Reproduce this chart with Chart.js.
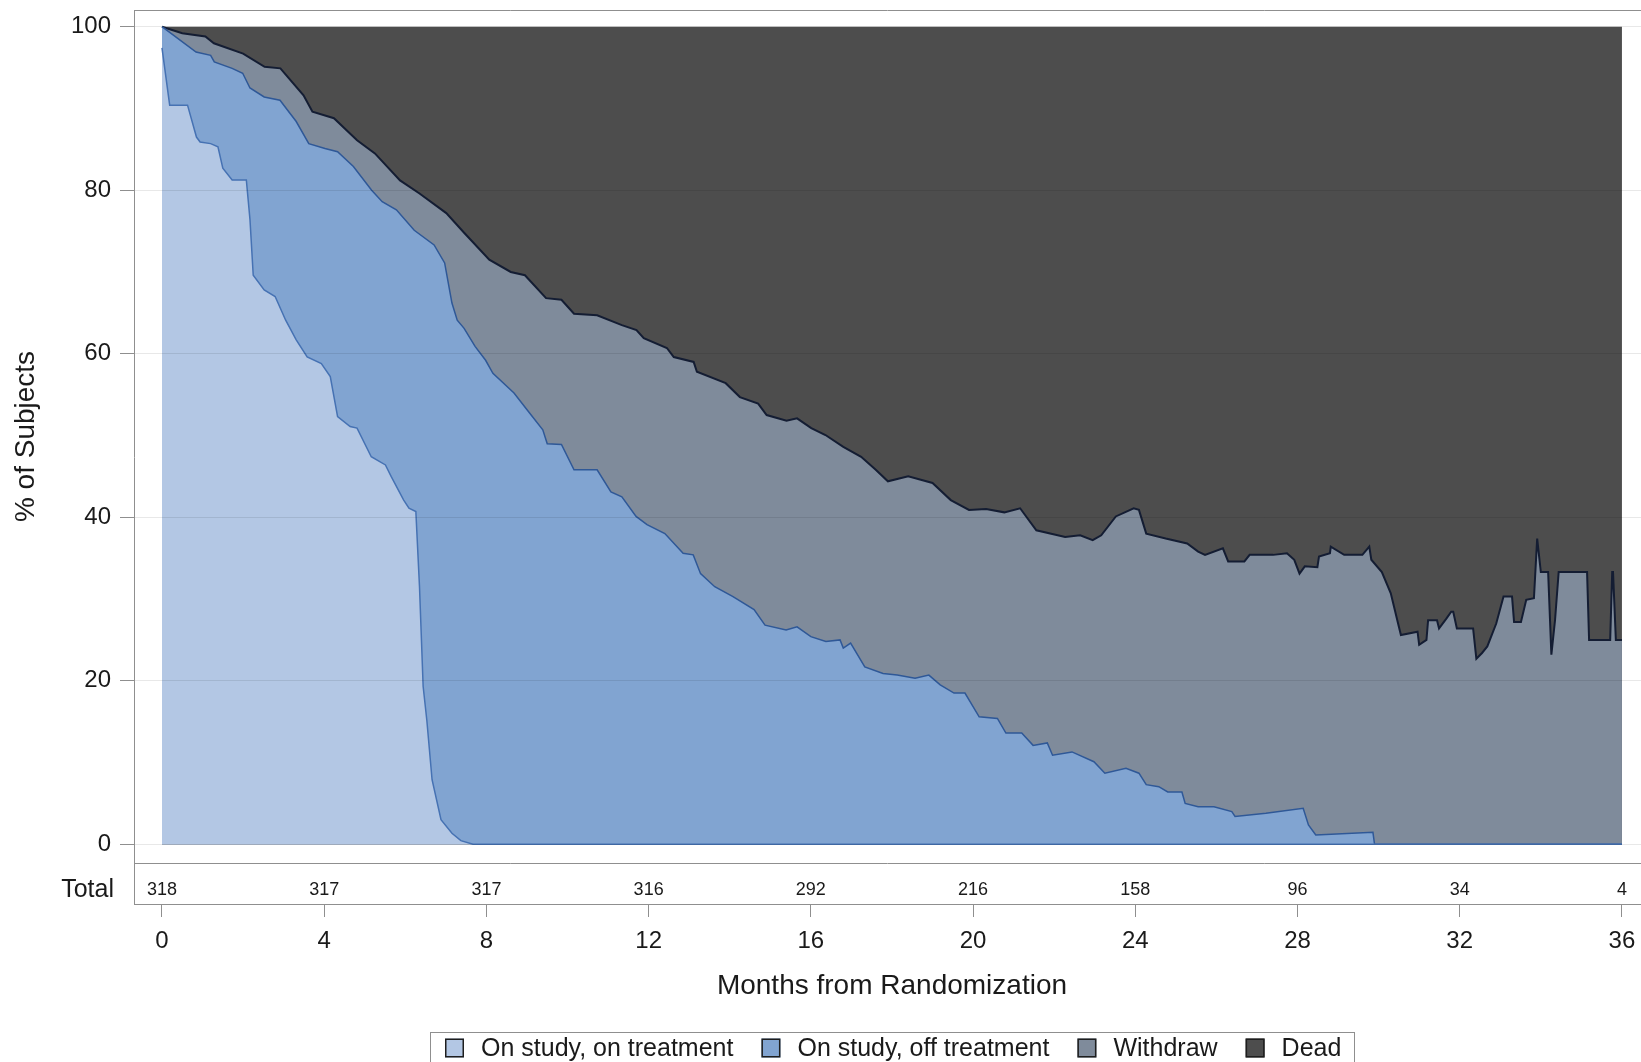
<!DOCTYPE html>
<html>
<head>
<meta charset="utf-8">
<title>Subject status over time</title>
<script src="https://cdn.jsdelivr.net/npm/chart.js@4.4.1/dist/chart.umd.min.js"></script>
<style>
  html, body { margin: 0; padding: 0; background: #ffffff; overflow: hidden; }
  #wrap { width: 1641px; height: 1062px; position: relative; }
  canvas { display: block; }
</style>
</head>
<body>
<div id="wrap"><canvas id="statusChart" width="1641" height="1062"></canvas></div>
<script>
// Cumulative percentages of subjects (upper edge of each stacked band), by month.
const onTreatmentMonths = [0, 0.19, 0.63, 0.85, 0.94, 1.2, 1.38, 1.5, 1.73, 2.08, 2.17, 2.25, 2.52, 2.79, 3.05, 3.31, 3.58, 3.93, 4.15, 4.33, 4.64, 4.81, 5.16, 5.51, 5.65, 5.96, 6.09, 6.26, 6.35, 6.44, 6.53, 6.66, 6.88, 7.15, 7.37, 7.67, 36];
const onTreatmentTop = [97.4, 90.4, 90.4, 86.5, 85.9, 85.7, 85.3, 82.7, 81.25, 81.25, 76.4, 69.6, 67.8, 67.0, 64.1, 61.7, 59.6, 58.8, 57.2, 52.3, 51.1, 50.9, 47.4, 46.4, 45.0, 42.1, 41.1, 40.7, 31.5, 19.3, 15.2, 7.9, 3.0, 1.35, 0.45, 0, 0];

const offTreatmentMonths = [0, 0.84, 1.2, 1.29, 1.73, 1.99, 2.17, 2.52, 2.91, 3.31, 3.62, 4.02, 4.33, 4.72, 5.17, 5.43, 5.78, 6.22, 6.71, 6.97, 7.15, 7.28, 7.45, 7.72, 7.98, 8.16, 8.68, 9.04, 9.39, 9.5, 9.85, 10.16, 10.73, 11.07, 11.34, 11.69, 11.96, 12.4, 12.85, 13.1, 13.28, 13.63, 14.08, 14.6, 14.87, 15.39, 15.66, 16.0, 16.37, 16.72, 16.8, 16.98, 17.33, 17.78, 18.13, 18.57, 18.91, 19.19, 19.53, 19.8, 20.15, 20.6, 20.81, 21.2, 21.48, 21.83, 21.96, 22.44, 22.98, 23.25, 23.77, 24.09, 24.27, 24.58, 24.8, 25.15, 25.23, 25.55, 25.94, 26.38, 26.46, 27.22, 28.14, 28.27, 28.45, 29.86, 29.9, 36];
const offTreatmentTop = [100, 96.9, 96.5, 95.7, 94.9, 94.3, 92.5, 91.4, 91.0, 88.4, 85.7, 85.1, 84.7, 82.9, 80.0, 78.6, 77.6, 75.1, 73.3, 71.1, 66.2, 64.1, 63.1, 60.9, 59.2, 57.6, 55.2, 52.9, 50.7, 49.0, 48.9, 45.8, 45.8, 43.1, 42.5, 40.1, 39.1, 38.0, 35.6, 35.4, 33.1, 31.5, 30.3, 28.7, 26.8, 26.2, 26.6, 25.4, 24.8, 25.0, 24.0, 24.6, 21.7, 20.9, 20.7, 20.3, 20.7, 19.5, 18.5, 18.5, 15.6, 15.4, 13.6, 13.6, 12.1, 12.4, 10.9, 11.3, 10.1, 8.7, 9.3, 8.7, 7.3, 7.05, 6.4, 6.4, 5.0, 4.6, 4.6, 4.0, 3.4, 3.8, 4.4, 2.36, 1.14, 1.47, 0, 0];

const withdrawMonths = [0, 0.5, 1.07, 1.28, 2.0, 2.53, 2.92, 3.49, 3.71, 4.24, 4.81, 5.25, 5.87, 6.35, 7.01, 7.45, 8.07, 8.6, 8.95, 9.47, 9.85, 10.16, 10.73, 11.34, 11.7, 11.88, 12.45, 12.62, 13.11, 13.19, 13.9, 14.25, 14.7, 14.91, 15.4, 15.66, 16.01, 16.36, 16.8, 17.24, 17.6, 17.9, 18.4, 19.0, 19.45, 19.9, 20.32, 20.77, 21.16, 21.56, 22.27, 22.64, 22.95, 23.16, 23.52, 23.96, 24.09, 24.27, 24.75, 25.28, 25.55, 25.72, 26.16, 26.29, 26.69, 26.82, 27.4, 27.74, 27.92, 28.05, 28.18, 28.49, 28.53, 28.8, 28.82, 29.15, 29.6, 29.77, 29.82, 30.08, 30.3, 30.48, 30.55, 30.96, 31.0, 31.18, 31.22, 31.44, 31.49, 31.67, 31.79, 31.84, 31.93, 32.33, 32.41, 32.55, 32.68, 32.9, 33.08, 33.29, 33.34, 33.51, 33.64, 33.83, 33.91, 34.0, 34.18, 34.26, 34.35, 34.44, 35.14, 35.19, 35.71, 35.76, 35.78, 35.85, 36];
const withdrawTop = [100, 99.2, 98.8, 97.97, 96.7, 95.1, 94.9, 91.6, 89.6, 88.8, 86.1, 84.5, 81.2, 79.6, 77.2, 74.8, 71.5, 70.0, 69.6, 66.8, 66.6, 64.9, 64.7, 63.5, 62.9, 61.9, 60.7, 59.6, 59.0, 57.8, 56.4, 54.7, 53.9, 52.5, 51.8, 52.1, 50.9, 50.06, 48.6, 47.4, 45.8, 44.4, 45.0, 44.2, 42.1, 40.9, 41.0, 40.6, 41.1, 38.4, 37.6, 37.8, 37.2, 37.8, 40.1, 41.1, 40.9, 38.0, 37.4, 36.8, 35.8, 35.4, 36.2, 34.6, 34.6, 35.4, 35.4, 35.6, 34.8, 33.1, 34.0, 33.9, 35.2, 35.6, 36.4, 35.4, 35.4, 36.4, 34.8, 33.3, 30.7, 27.0, 25.6, 26.0, 24.4, 25.0, 27.4, 27.4, 26.4, 27.6, 28.45, 28.45, 26.4, 26.4, 22.7, 23.4, 24.2, 27.0, 30.3, 30.3, 27.2, 27.2, 29.9, 30.1, 37.4, 33.3, 33.3, 23.2, 27.4, 33.3, 33.3, 25.0, 25.0, 33.3, 33.3, 25.0, 25.0];

const deadMonths = [0, 36];
const deadTop = [100, 100];

// Number of subjects by visit month
const atRiskMonths = [0, 4, 8, 12, 16, 20, 24, 28, 32, 36];
const atRiskTotal = [318, 317, 317, 316, 292, 216, 158, 96, 34, 4];

const xTickMonths = [0, 4, 8, 12, 16, 20, 24, 28, 32, 36];
const yTickPct = [0, 20, 40, 60, 80, 100];

const seriesLabels = ['On study, on treatment', 'On study, off treatment', 'Withdraw', 'Dead'];

const FONT = '"Liberation Sans", Arial, Helvetica, sans-serif';
const TEXT = '#1a1a1a';
const FRAME = '#8f8f8f';

function toPoints(xs, ys) {
  return xs.map((x, i) => ({ x: x, y: ys[i] }));
}

function noEdgePadding(s) {
  s.paddingTop = 0;
  s.paddingBottom = 0;
  s.paddingLeft = 0;
  s.paddingRight = 0;
}

// Extra drawing: frame lines, subject-count row, axis titles, boxed legend.
const decorations = {
  id: 'decorations',
  afterDraw(chart) {
    const ctx = chart.ctx;
    const area = chart.chartArea;
    const xs = chart.scales.x;
    const bandTop = area.bottom - 41;
    ctx.save();

    // frame
    ctx.strokeStyle = FRAME;
    ctx.lineWidth = 1;
    ctx.beginPath();
    ctx.moveTo(area.left, area.top + 0.5);
    ctx.lineTo(area.right, area.top + 0.5);
    ctx.moveTo(area.left, bandTop + 0.5);
    ctx.lineTo(area.right, bandTop + 0.5);
    ctx.stroke();

    // subject counts
    ctx.fillStyle = TEXT;
    ctx.textBaseline = 'middle';
    ctx.textAlign = 'center';
    ctx.font = '18px ' + FONT;
    const rowY = area.bottom - 14;
    atRiskMonths.forEach((m, i) => {
      ctx.fillText(String(atRiskTotal[i]), xs.getPixelForValue(m), rowY);
    });
    ctx.textAlign = 'right';
    ctx.font = '25px ' + FONT;
    ctx.fillText('Total', area.left - 20, rowY);

    // axis titles
    ctx.textAlign = 'center';
    ctx.font = '28px ' + FONT;
    ctx.fillText('Months from Randomization', xs.getPixelForValue(18), area.bottom + 82);
    ctx.save();
    ctx.translate(26, (area.top + bandTop) / 2);
    ctx.rotate(-Math.PI / 2);
    ctx.fillText('% of Subjects', 0, 0);
    ctx.restore();

    // legend
    ctx.font = '25px ' + FONT;
    const box = 19, gapText = 17, gapItem = 28, padL = 15, padR = 13;
    const items = chart.data.datasets.map(d => ({ label: d.label, fill: d.backgroundColor }));
    let total = padL + padR;
    items.forEach((it, i) => {
      it.w = ctx.measureText(it.label).width;
      total += box + gapText + it.w + (i < items.length - 1 ? gapItem : 0);
    });
    const left = Math.round(xs.getPixelForValue(18) - total / 2);
    const top = area.bottom + 128;
    const cy = top + 16;
    ctx.strokeStyle = FRAME;
    ctx.lineWidth = 1;
    ctx.strokeRect(left + 0.5, top + 0.5, Math.round(total), 60);
    let x = left + padL;
    ctx.textAlign = 'left';
    items.forEach(it => {
      ctx.fillStyle = it.fill;
      ctx.fillRect(x, cy - box / 2, box, box);
      ctx.strokeStyle = '#1e1e1e';
      ctx.lineWidth = 1.5;
      ctx.strokeRect(x + 0.75, cy - box / 2 + 0.75, box - 1.5, box - 1.5);
      x += box + gapText;
      ctx.fillStyle = TEXT;
      ctx.fillText(it.label, x, cy + 1);
      x += it.w + gapItem;
    });
    ctx.restore();
  }
};

const chart = new Chart(document.getElementById('statusChart'), {
  type: 'line',
  data: {
    datasets: [
      {
        label: seriesLabels[0],
        data: toPoints(onTreatmentMonths, onTreatmentTop),
        backgroundColor: '#b3c7e4',
        borderColor: '#4672b3',
        borderWidth: 1.5,
        fill: 'origin'
      },
      {
        label: seriesLabels[1],
        data: toPoints(offTreatmentMonths, offTreatmentTop),
        backgroundColor: '#81a4d1',
        borderColor: '#2f5897',
        borderWidth: 1.5,
        fill: 'origin'
      },
      {
        label: seriesLabels[2],
        data: toPoints(withdrawMonths, withdrawTop),
        backgroundColor: '#7f8b9b',
        borderColor: '#141d33',
        borderWidth: 2,
        fill: 'origin'
      },
      {
        label: seriesLabels[3],
        data: toPoints(deadMonths, deadTop),
        backgroundColor: '#4d4d4d',
        borderColor: '#4d4d4d',
        borderWidth: 0,
        fill: 'origin'
      }
    ]
  },
  options: {
    responsive: false,
    animation: false,
    devicePixelRatio: 1,
    events: [],
    elements: {
      point: { radius: 0 },
      line: { tension: 0, borderJoinStyle: 'miter' }
    },
    layout: { padding: { top: 10, left: 0, right: 0, bottom: 0 } },
    plugins: {
      legend: { display: false },
      tooltip: { enabled: false },
      title: { display: false }
    },
    scales: {
      x: {
        type: 'linear',
        min: -0.69,
        max: 36.47,
        afterBuildTicks: s => { s.ticks = xTickMonths.map(v => ({ value: v })); },
        afterFit: s => { s.height = 158; noEdgePadding(s); },
        grid: { drawOnChartArea: false, drawTicks: true, tickLength: 13, tickColor: FRAME },
        border: { display: true, color: FRAME, width: 1, z: 2 },
        ticks: {
          font: { family: FONT, size: 24 },
          color: TEXT,
          padding: 10,
          maxRotation: 0,
          autoSkip: false
        }
      },
      y: {
        type: 'linear',
        min: -7.3,
        max: 102.04,
        afterBuildTicks: s => { s.ticks = yTickPct.map(v => ({ value: v })); },
        afterFit: s => { s.width = 134; noEdgePadding(s); },
        grid: { color: 'rgba(0,0,0,0.09)', z: 1, drawTicks: true, tickLength: 14, tickColor: FRAME },
        border: { display: true, color: FRAME, width: 1, z: 2 },
        ticks: {
          font: { family: FONT, size: 24 },
          color: TEXT,
          padding: 9
        }
      }
    }
  },
  plugins: [decorations]
});
</script>
</body>
</html>
